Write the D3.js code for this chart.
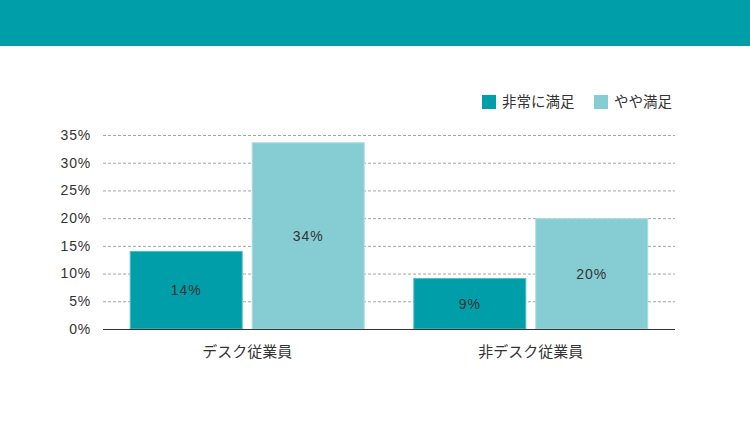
<!DOCTYPE html>
<html>
<head>
<meta charset="utf-8">
<script src="https://cdn.jsdelivr.net/npm/d3@7"></script>
<style>
  body { margin: 0; background: #fff; }
  svg text { font-family: "Noto Sans CJK JP", "Noto Sans", sans-serif; fill: #333; }
  svg text.num { font-family: "Liberation Sans", "DejaVu Sans", sans-serif; }
</style>
</head>
<body>
<script>
var width = 750, height = 422;

var categories = ["デスク従業員", "非デスク従業員"];
var seriesNames = ["非常に満足", "やや満足"];
var seriesColors = ["#009ea8", "#86cdd3"];
var veryValues = [14, 9.1];
var someValues = [33.6, 19.9];
var valueLabels = [["14%", "34%"], ["9%", "20%"]];
var yTicks = [0, 5, 10, 15, 20, 25, 30, 35];

var rows = categories.map((c, i) => ({
  cat: c,
  vals: [veryValues[i], someValues[i]],
  labels: valueLabels[i]
}));

var svg = d3.select("body")
  .append("svg")
  .attr("width", width)
  .attr("height", height);

// header band
svg.append("rect")
  .attr("x", 0).attr("y", 0)
  .attr("width", width).attr("height", 46)
  .attr("fill", "#009ea8");

var y = d3.scaleLinear().domain([0, 35]).range([329, 135]);
var x0 = d3.scaleBand()
  .domain(categories)
  .range([103, 675])
  .paddingInner(0.175)
  .paddingOuter(0.096);
var x1 = d3.scaleBand()
  .domain([0, 1])
  .range([0, x0.bandwidth()])
  .paddingInner(0.082);

// grid lines
svg.append("g")
  .selectAll("line")
  .data(yTicks.filter(d => d > 0))
  .enter()
  .append("line")
  .attr("x1", 103)
  .attr("x2", 675)
  .attr("y1", d => y(d) + 0.5)
  .attr("y2", d => y(d) + 0.5)
  .attr("stroke", "#a5a5a5")
  .attr("stroke-width", 1)
  .attr("stroke-dasharray", "3,2");

// y tick labels
svg.append("g")
  .selectAll("text")
  .data(yTicks)
  .enter()
  .append("text")
  .attr("class", "num")
  .attr("x", 91)
  .attr("y", d => y(d))
  .attr("dy", "0.35em")
  .attr("text-anchor", "end")
  .attr("font-size", 14)
  .attr("letter-spacing", 0.8)
  .text(d => d + "%");

// bars
var groups = svg.append("g")
  .selectAll("g")
  .data(rows)
  .enter()
  .append("g")
  .attr("transform", d => "translate(" + x0(d.cat) + ",0)");

groups.selectAll("rect")
  .data(d => d.vals)
  .enter()
  .append("rect")
  .attr("x", (d, i) => x1(i))
  .attr("y", d => y(d))
  .attr("width", x1.bandwidth())
  .attr("height", d => y(0) - y(d))
  .attr("fill", (d, i) => seriesColors[i])
  .attr("stroke", (d, i) => i == 0 ? "#4fbcc3" : "#a9dde1")
  .attr("stroke-width", 1);

groups.selectAll("text.val")
  .data(d => d.vals.map((v, i) => ({v: v, label: d.labels[i]})))
  .enter()
  .append("text")
  .attr("class", "num")
  .attr("x", (d, i) => x1(i) + x1.bandwidth() / 2)
  .attr("y", d => (y(d.v) + y(0)) / 2)
  .attr("dy", "0.35em")
  .attr("text-anchor", "middle")
  .attr("font-size", 14)
  .attr("letter-spacing", 1)
  .text(d => d.label);

// baseline
svg.append("line")
  .attr("x1", 103).attr("x2", 675)
  .attr("y1", 329.5).attr("y2", 329.5)
  .attr("stroke", "#333")
  .attr("stroke-width", 1.2);

// category labels
svg.append("g")
  .selectAll("text")
  .data(categories)
  .enter()
  .append("text")
  .attr("x", d => x0(d) + x0.bandwidth() / 2)
  .attr("y", 357)
  .attr("text-anchor", "middle")
  .attr("font-size", 15)
  .text(d => d);

// legend
var legendX = [482, 594];
var legend = svg.append("g")
  .selectAll("g")
  .data(seriesNames)
  .enter()
  .append("g")
  .attr("transform", (d, i) => "translate(" + legendX[i] + ",95)");

legend.append("rect")
  .attr("width", 14).attr("height", 14)
  .attr("fill", (d, i) => seriesColors[i]);

legend.append("text")
  .attr("x", 20)
  .attr("y", 7)
  .attr("dy", "0.35em")
  .attr("font-size", 14.5)
  .text(d => d);
</script>
</body>
</html>
